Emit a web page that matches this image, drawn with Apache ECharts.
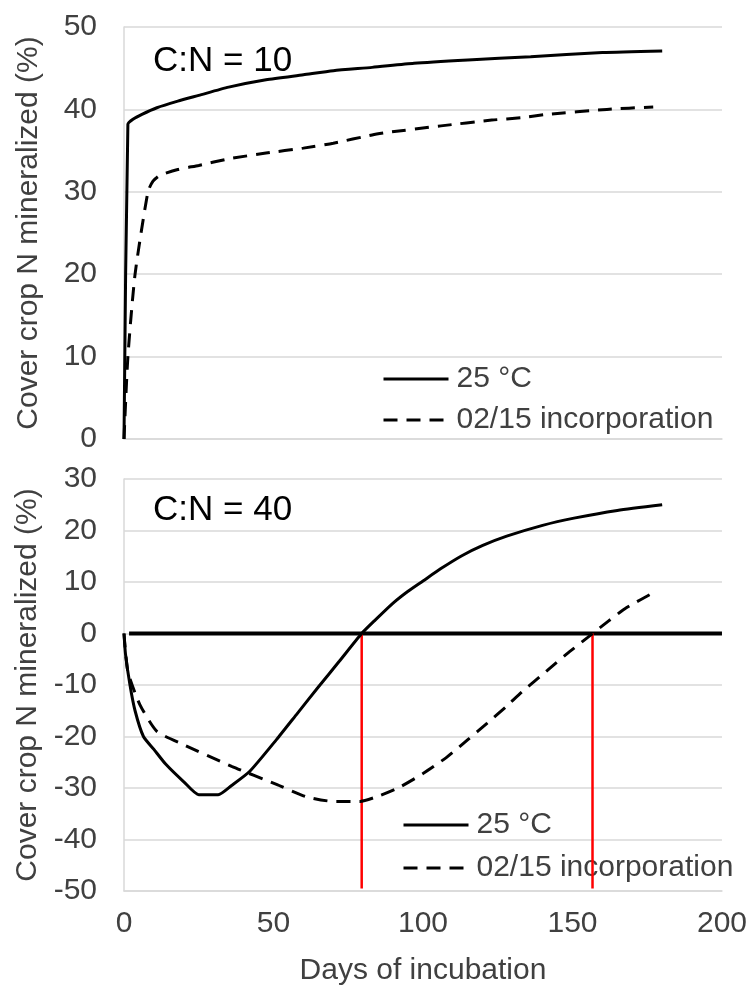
<!DOCTYPE html>
<html>
<head>
<meta charset="utf-8">
<script src="https://cdn.jsdelivr.net/npm/echarts@6/dist/echarts.min.js"></script>
<style>
html,body{margin:0;padding:0;background:#fff;}
#chart{width:750px;height:994px;}
</style>
</head>
<body>
<div id="chart"></div>
<script>
// ---- data ----
const seriesNames = ['25 °C', '02/15 incorporation'];
const panelLabels = ['C:N = 10', 'C:N = 40'];
const xTicks = [0, 50, 100, 150, 200];

// C:N = 10, 25 °C
const cn10SolidDays = [0, 1.3, 3, 6, 11, 18, 25, 35, 47.5, 60, 70, 83, 97, 115, 136, 160, 180];
const cn10SolidVals = [0, 38.2, 38.8, 39.4, 40.2, 41.0, 41.7, 42.7, 43.6, 44.2, 44.7, 45.1, 45.6, 46.0, 46.4, 46.9, 47.1];
// C:N = 10, 02/15 incorporation
const cn10DashDays = [0, 1.3, 3.7, 8, 9.7, 12, 18, 25, 35, 47.5, 60, 70, 83, 88, 106, 123, 133, 141.5, 161.5, 177];
const cn10DashVals = [0, 10, 20, 30, 31.3, 32.0, 32.7, 33.2, 34.0, 34.7, 35.3, 35.9, 36.9, 37.2, 38.0, 38.7, 39.0, 39.4, 40.0, 40.3];

// C:N = 40, 25 °C
const cn40SolidDays = [0, 0.5, 2, 3.7, 6.5, 10, 14, 20, 25, 31.5, 36, 42, 51, 58, 65, 72, 79.5, 84, 90, 95, 100, 106, 113, 120, 128, 140, 150.5, 165, 180];
const cn40SolidVals = [0, -4, -10, -15, -20, -22.5, -25.4, -28.8, -31.3, -31.3, -29.5, -26.8, -20.6, -15.5, -10.4, -5.4, 0, 2.6, 5.9, 8.2, 10.2, 12.6, 15.1, 17.1, 18.9, 21.0, 22.4, 23.9, 25.0];
// C:N = 40, 02/15 incorporation
const cn40DashDays = [0, 1.3, 5.3, 11, 20, 36, 51, 61, 70, 79, 85, 92, 100, 108, 115, 121.5, 128, 133, 141.5, 148, 155, 162, 168, 178];
const cn40DashVals = [0, -7.4, -13.8, -19, -21.6, -25.8, -29.3, -31.7, -32.6, -32.6, -31.6, -29.9, -27.2, -24.0, -20.6, -17.4, -14.1, -11.4, -7.2, -4.0, -0.8, 2.4, 5.0, 8.2];

// reference lines (C:N = 40 panel)
const zeroLineDays = [1.7, 200];
const zeroLineVals = [0, 0];
const crossDays = [79.5, 156.7];
const crossFrom = 0;
const crossTo = -49.5;

// ---- chart ----
const zip = (xs, ys) => xs.map((x, i) => [x, ys[i]]);
const FONT = '"Liberation Sans", Arial, sans-serif';
const TXT = '#404040';
const GRIDC = '#d9d9d9';

const chart = echarts.init(document.getElementById('chart'), null, {renderer: 'canvas'});

function xAxis(gridIndex, showLabels) {
  return {
    type: 'value', gridIndex, min: 0, max: 200, interval: 50,
    axisLine: {show: true, onZero: false, lineStyle: {color: GRIDC, width: 1.5}},
    axisTick: {show: false},
    splitLine: {show: false},
    axisLabel: {show: showLabels, color: TXT, fontSize: 30, fontFamily: FONT, margin: 18},
    name: showLabels ? 'Days of incubation' : '',
    nameLocation: 'middle', nameGap: 65,
    nameTextStyle: {color: TXT, fontSize: 30, fontFamily: FONT}
  };
}
function yAxis(gridIndex, min, max) {
  return {
    type: 'value', gridIndex, min, max, interval: 10,
    axisLine: {show: true, onZero: false, lineStyle: {color: GRIDC, width: 1.5}},
    axisTick: {show: false},
    splitLine: {show: true, lineStyle: {color: GRIDC, width: 1.5}},
    axisLabel: {color: TXT, fontSize: 30, fontFamily: FONT, margin: 27},
    name: 'Cover crop N mineralized (%)',
    nameLocation: 'middle', nameGap: 80,
    nameTextStyle: {color: TXT, fontSize: 30, fontFamily: FONT}
  };
}
function curve(name, idx, days, vals, dashed) {
  return {
    name, type: 'line', xAxisIndex: idx, yAxisIndex: idx,
    data: zip(days, vals), showSymbol: false, symbol: 'none', smooth: 0.2,
    lineStyle: {color: '#000', width: 3, type: dashed ? [14, 9] : 'solid'},
    itemStyle: {color: '#000'},
    z: 5, animation: false
  };
}

const series = [
  curve(seriesNames[0], 0, cn10SolidDays, cn10SolidVals, false),
  curve(seriesNames[1], 0, cn10DashDays, cn10DashVals, true),
  {
    name: 'zero', type: 'line', xAxisIndex: 1, yAxisIndex: 1,
    data: zip(zeroLineDays, zeroLineVals), symbol: 'none',
    lineStyle: {color: '#000', width: 4}, z: 3, animation: false
  },
  ...crossDays.map((d, i) => ({
    name: 'cross' + i, type: 'line', xAxisIndex: 1, yAxisIndex: 1,
    data: [[d, crossFrom], [d, crossTo]], symbol: 'none',
    lineStyle: {color: '#ff0000', width: 2.5}, z: 4, animation: false
  })),
  curve(seriesNames[0], 1, cn40SolidDays, cn40SolidVals, false),
  curve(seriesNames[1], 1, cn40DashDays, cn40DashVals, true)
];

function legend(left, top, gap) {
  return {
    data: seriesNames, orient: 'vertical', left, top,
    itemWidth: 65, itemHeight: 6, itemGap: gap, selectedMode: false,
    itemStyle: {opacity: 0},
    lineStyle: {width: 3, color: '#000'},
    textStyle: {color: TXT, fontSize: 30, fontFamily: FONT, padding: [0, 0, 0, 3]}
  };
}

chart.setOption({
  animation: false,
  backgroundColor: '#fff',
  title: [
    {text: panelLabels[0], left: 148, top: 39, textStyle: {color: '#000', fontSize: 35, fontWeight: 'normal', fontFamily: FONT}},
    {text: panelLabels[1], left: 148, top: 488, textStyle: {color: '#000', fontSize: 35, fontWeight: 'normal', fontFamily: FONT}}
  ],
  grid: [
    {left: 124, top: 27, width: 598, height: 412},
    {left: 124, top: 479, width: 598, height: 412}
  ],
  xAxis: [xAxis(0, false), xAxis(1, true)],
  yAxis: [yAxis(0, 0, 50), yAxis(1, -50, 30)],
  legend: [legend(377, 359, 11), legend(397, 805, 13)],
  series
});
</script>
</body>
</html>
